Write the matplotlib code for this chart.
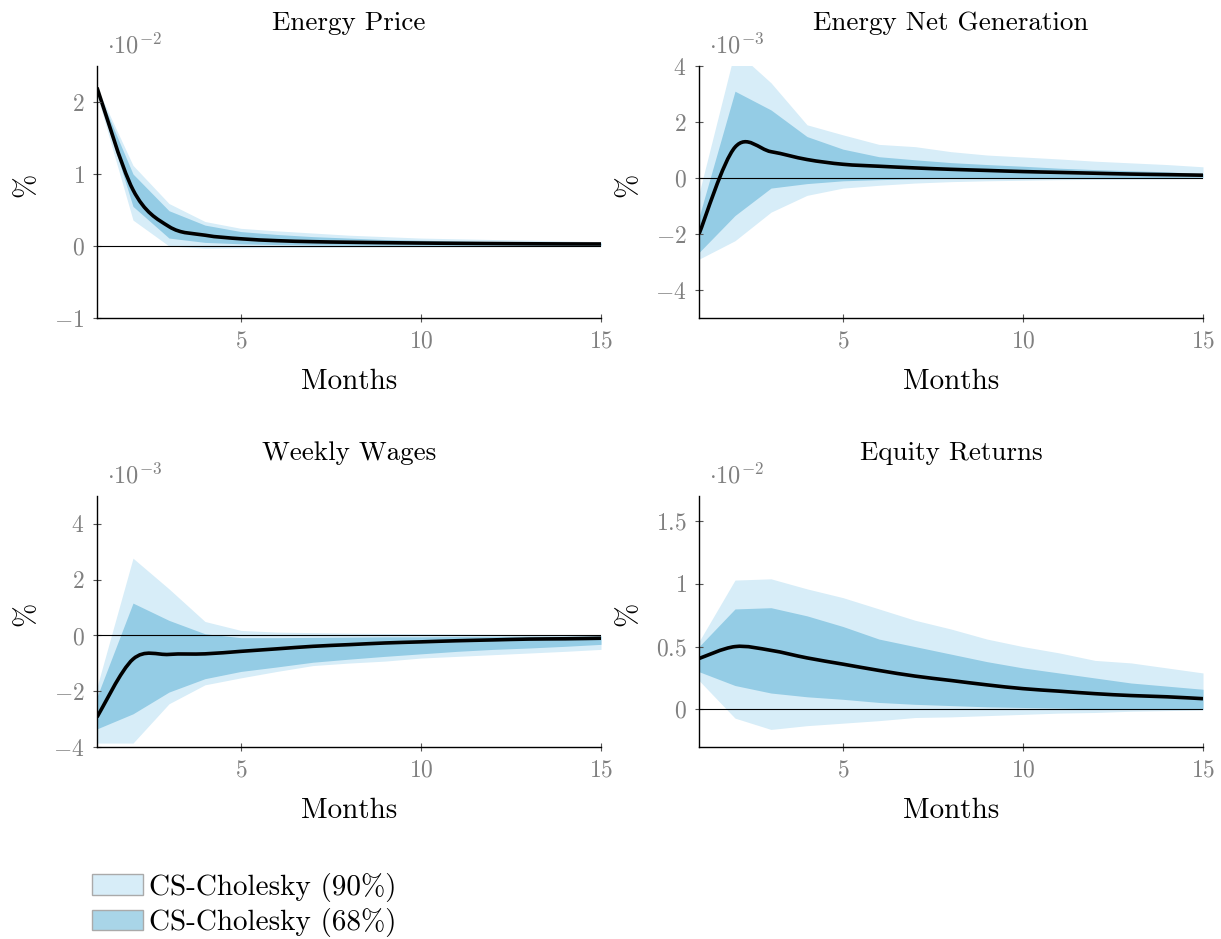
import numpy as np
import matplotlib
matplotlib.use("Agg")
import matplotlib.pyplot as plt
from matplotlib.path import Path
from matplotlib.patches import PathPatch, Patch

plt.rcParams['font.family'] = 'serif'
plt.rcParams['font.serif'] = ['cmr10']
plt.rcParams['mathtext.fontset'] = 'cm'
plt.rcParams['axes.formatter.use_mathtext'] = True

months = np.arange(1, 16)

# Energy Price (x 1e-2)
price_med = [2.2, 0.78, 0.27, 0.15, 0.1, 0.074, 0.06, 0.052, 0.046, 0.041, 0.037, 0.034, 0.031, 0.029, 0.028]
price_u90 = [2.2, 1.12, 0.59, 0.34, 0.245, 0.21, 0.18, 0.15, 0.13, 0.11, 0.1, 0.09, 0.08, 0.07, 0.06]
price_u68 = [2.18, 1.0, 0.49, 0.29, 0.2, 0.16, 0.13, 0.11, 0.09, 0.08, 0.07, 0.06, 0.05, 0.045, 0.04]
price_l68 = [2.15, 0.55, 0.11, 0.05, 0.03, 0.02, 0.015, 0.012, 0.01, 0.01, 0.01, 0.01, 0.01, 0.01, 0.01]
price_l90 = [2.1, 0.36, 0.0, -0.03, -0.025, -0.02, -0.018, -0.015, -0.013, -0.012, -0.011, -0.01, -0.01, -0.01, -0.01]

# Energy Net Generation (x 1e-3)
gen_med = [-2.0, 1.1, 0.94, 0.66, 0.49, 0.42, 0.36, 0.31, 0.27, 0.23, 0.2, 0.17, 0.14, 0.12, 0.1]
gen_u90 = [-0.56, 4.56, 3.4, 1.9, 1.54, 1.2, 1.12, 0.94, 0.82, 0.75, 0.68, 0.6, 0.54, 0.48, 0.4]
gen_u68 = [-1.4, 3.1, 2.43, 1.48, 1.03, 0.76, 0.65, 0.55, 0.48, 0.42, 0.35, 0.3, 0.26, 0.22, 0.16]
gen_l68 = [-2.66, -1.34, -0.36, -0.2, -0.1, -0.06, -0.03, -0.01, 0.0, 0.0, 0.01, 0.01, 0.02, 0.02, 0.03]
gen_l90 = [-2.9, -2.24, -1.22, -0.62, -0.36, -0.26, -0.18, -0.13, -0.1, -0.08, -0.06, -0.05, -0.04, -0.03, -0.02]

# Weekly Wages (x 1e-3)
wage_med = [-2.93, -0.85, -0.68, -0.66, -0.57, -0.48, -0.39, -0.33, -0.27, -0.23, -0.19, -0.16, -0.13, -0.12, -0.1]
wage_u90 = [-1.85, 2.77, 1.67, 0.5, 0.18, 0.12, 0.1, 0.08, 0.07, 0.06, 0.05, 0.04, 0.03, 0.03, 0.02]
wage_u68 = [-2.2, 1.16, 0.54, 0.06, -0.08, -0.08, -0.07, -0.06, -0.05, -0.05, -0.04, -0.04, -0.03, -0.03, -0.02]
wage_l68 = [-3.35, -2.81, -2.03, -1.55, -1.29, -1.13, -0.96, -0.85, -0.75, -0.66, -0.57, -0.5, -0.45, -0.39, -0.32]
wage_l90 = [-3.86, -3.86, -2.45, -1.77, -1.52, -1.29, -1.08, -0.99, -0.92, -0.81, -0.75, -0.69, -0.63, -0.57, -0.5]

# Equity Returns (x 1e-2)
eq_med = [0.405, 0.5, 0.47, 0.41, 0.36, 0.31, 0.265, 0.23, 0.195, 0.165, 0.145, 0.125, 0.11, 0.1, 0.085]
eq_u90 = [0.54, 1.03, 1.04, 0.96, 0.89, 0.8, 0.71, 0.64, 0.56, 0.5, 0.45, 0.39, 0.37, 0.33, 0.29]
eq_u68 = [0.5, 0.8, 0.81, 0.745, 0.66, 0.56, 0.5, 0.44, 0.38, 0.33, 0.29, 0.25, 0.21, 0.185, 0.16]
eq_l68 = [0.3, 0.19, 0.13, 0.1, 0.08, 0.055, 0.04, 0.03, 0.02, 0.015, 0.01, 0.005, 0.005, 0.0, 0.0]
eq_l90 = [0.23, -0.07, -0.16, -0.13, -0.11, -0.09, -0.065, -0.06, -0.05, -0.04, -0.03, -0.025, -0.015, -0.01, -0.005]

panels = [
    ("Energy Price", price_med, price_u90, price_u68, price_l68, price_l90, -2, (-1, 2.5), [-1, 0, 1, 2]),
    ("Energy Net Generation", gen_med, gen_u90, gen_u68, gen_l68, gen_l90, -3, (-5, 4), [-4, -2, 0, 2, 4]),
    ("Weekly Wages", wage_med, wage_u90, wage_u68, wage_l68, wage_l90, -3, (-4, 5), [-4, -2, 0, 2, 4]),
    ("Equity Returns", eq_med, eq_u90, eq_u68, eq_l68, eq_l90, -2, (-0.3, 1.7), [0, 0.5, 1, 1.5]),
]
ytick_labels = [
    ["$-1$", "$0$", "$1$", "$2$"],
    ["$-4$", "$-2$", "$0$", "$2$", "$4$"],
    ["$-4$", "$-2$", "$0$", "$2$", "$4$"],
    ["$0$", "$0.5$", "$1$", "$1.5$"],
]

light = '#d7edf8'
dark = '#94cce5'
gray = '#808080'

W, H = 1221, 939
fig = plt.figure(figsize=(W / 100, H / 100), dpi=100)
boxes = [(97, 66, 504, 252), (699, 66, 504, 252), (97, 496, 504, 251), (699, 496, 504, 251)]


def smooth_path(x, y):
    # Catmull-Rom through the points, drawn as cubic Bezier pieces
    x = np.asarray(x, float)
    y = np.asarray(y, float)
    n = len(x)
    verts = [(x[0], y[0])]
    codes = [Path.MOVETO]
    for i in range(n - 1):
        x0, y0 = (x[i - 1], y[i - 1]) if i > 0 else (x[i], y[i])
        x3, y3 = (x[i + 2], y[i + 2]) if i + 2 < n else (x[i + 1], y[i + 1])
        c1 = (x[i] + (x[i + 1] - x0) / 6, y[i] + (y[i + 1] - y0) / 6)
        c2 = (x[i + 1] - (x3 - x[i]) / 6, y[i + 1] - (y3 - y[i]) / 6)
        verts += [c1, c2, (x[i + 1], y[i + 1])]
        codes += [Path.CURVE4] * 3
    return Path(verts, codes)


for (title, med, u90, u68, l68, l90, ex, ylim, yt), labs, (bx, by, bw, bh) in zip(panels, ytick_labels, boxes):
    ax = fig.add_axes([bx / W, 1 - (by + bh) / H, bw / W, bh / H])
    ax.fill_between(months, l90, u90, color=light, lw=0)
    ax.fill_between(months, l68, u68, color=dark, lw=0)
    ax.axhline(0, color='black', lw=0.8)
    ax.add_patch(PathPatch(smooth_path(months, med), fc='none', ec='black', lw=2.6,
                           transform=ax.transData))
    ax.set_xlim(1, 15)
    ax.set_ylim(*ylim)
    ax.set_xticks([5, 10, 15])
    ax.set_xticklabels(["$5$", "$10$", "$15$"])
    ax.set_yticks(yt)
    ax.set_yticklabels(labs)
    for s in ['top', 'right']:
        ax.spines[s].set_visible(False)
    for s in ['left', 'bottom']:
        ax.spines[s].set_linewidth(1.0)
    ax.tick_params(direction='inout', length=6, width=0.8, color='#555555',
                   labelcolor=gray, labelsize=17, pad=6)
    ax.set_title(title, fontsize=19.5, pad=26)
    ax.set_xlabel("Months", fontsize=21)
    ax.xaxis.set_label_coords(0.5, -0.20)
    ax.set_ylabel("%", fontsize=21)
    ax.yaxis.set_label_coords(-0.115, 0.53)
    ax.text(0.02, 1.03, r"$\cdot 10^{%d}$" % ex, transform=ax.transAxes,
            color=gray, fontsize=17.5, va='bottom', ha='left')

handles = [Patch(fc=light, ec='#aaaaaa', lw=1.0, label='CS-Cholesky (90%)'),
           Patch(fc='#a9d5e8', ec='#aaaaaa', lw=1.0, label='CS-Cholesky (68%)')]
fig.legend(handles=handles, loc='upper left', bbox_to_anchor=(80 / W, 1 - 861 / H),
           frameon=False, fontsize=21, handlelength=1.75, handleheight=0.7,
           handletextpad=0.2, labelspacing=0.22, borderaxespad=0)

fig.savefig('out.png', dpi=100)
